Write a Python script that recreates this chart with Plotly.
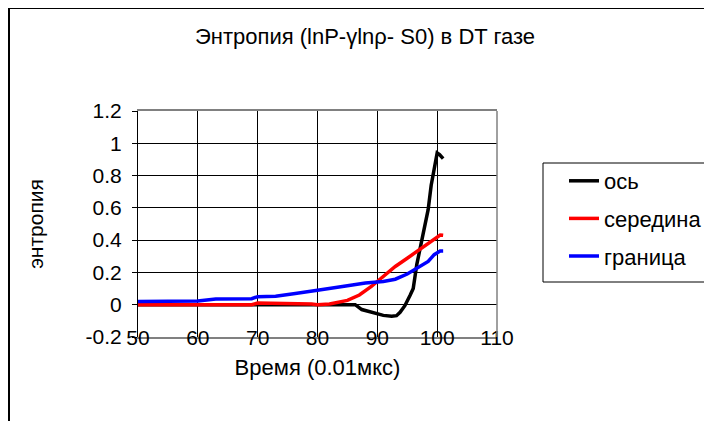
import plotly.graph_objects as go

# ---- data ----
x_os = [50, 55, 60, 65, 70, 75, 80, 85, 86.3, 87.4, 89.3, 91, 92.4, 93.2, 93.8, 94.6, 95.5, 96, 96.6, 97.2, 97.7, 98.5, 99, 99.5, 100, 100.4, 101]
y_os = [0, 0, 0, 0, 0, 0, 0, 0, 0, -0.03, -0.047, -0.066, -0.072, -0.068, -0.047, -0.006, 0.06, 0.1, 0.25, 0.36, 0.44, 0.59, 0.74, 0.83, 0.94, 0.93, 0.905]

x_mid = [50, 60, 69, 70, 74, 78, 79, 80, 82, 85, 87, 89, 91, 93, 95, 97, 99, 100.5, 101]
y_mid = [0, 0, 0, 0.01, 0.01, 0.01, 0.005, 0, 0.005, 0.027, 0.06, 0.113, 0.175, 0.237, 0.288, 0.34, 0.39, 0.432, 0.43]

x_bnd = [50, 60, 63, 69, 70, 73, 76, 79, 80, 85, 88, 91, 93, 95, 97, 98.5, 99.5, 100.5, 101]
y_bnd = [0.02, 0.023, 0.035, 0.037, 0.05, 0.053, 0.068, 0.082, 0.089, 0.117, 0.134, 0.144, 0.158, 0.19, 0.237, 0.268, 0.31, 0.333, 0.333]

names = ["ось", "середина", "граница"]
colors = ["#000000", "#ff0000", "#0000ff"]

x_ticks = [50, 60, 70, 80, 90, 100, 110]
y_ticks = [-0.2, 0, 0.2, 0.4, 0.6, 0.8, 1, 1.2]
y_ticklabels = ["-0.2", "0", "0.2", "0.4", "0.6", "0.8", "1", "1.2"]

title_text = "Энтропия (lnP-γlnρ- S0) в DT газе"
x_title = "Время (0.01мкс)"
y_title = "энтропия"

# ---- layout geometry (window pixels; page body has an 8px margin) ----
OFF = 8
W, H = 780, 421 - OFF          # wider than the window so the legend never pushes margins
L, R, T, B = 138 - OFF, 497 - OFF, 111 - OFF, 337 - OFF
PW, PH = R - L, B - T


def px(xp):
    return (xp - OFF - L) / PW


def py(yp):
    return (B - (yp - OFF)) / PH


FONT = "Arial, 'Liberation Sans', sans-serif"

fig = go.Figure()
for xs, ys, nm, c in zip([x_os, x_mid, x_bnd], [y_os, y_mid, y_bnd], names, colors):
    fig.add_trace(go.Scatter(x=xs, y=ys, mode="lines", name=nm, legendgroup=nm,
                             line=dict(color=c, width=3.5)))

shapes = [
    # outer chart border (top & left visible)
    dict(type="rect", xref="paper", yref="paper", x0=px(9), x1=px(770), y0=py(470), y1=py(8),
         line=dict(color="black", width=2), layer="below"),
    # right border of plot area (gray)
    dict(type="line", xref="paper", yref="paper", x0=1, x1=1, y0=0, y1=1,
         line=dict(color="#808080", width=1.5)),
    # legend box
    dict(type="rect", xref="paper", yref="paper", x0=px(543), x1=px(770), y0=py(282), y1=py(163),
         line=dict(color="black", width=1)),
]

fig.update_layout(
    width=W, height=H,
    margin=dict(l=L, r=W - R, t=T, b=H - B),
    paper_bgcolor="white", plot_bgcolor="white",
    font=dict(family=FONT, size=21, color="black"),
    title=dict(text=title_text, x=(365 - OFF) / W, y=1 - (36 - OFF) / H, xanchor="center", yanchor="middle",
               font=dict(family=FONT, size=22, color="black")),
    showlegend=True,
    legend=dict(x=px(564), y=py(160), xanchor="left", yanchor="top",
                bgcolor="rgba(0,0,0,0)", borderwidth=0, traceorder="grouped",
                tracegroupgap=6, font=dict(family=FONT, size=22, color="black")),
    shapes=shapes,
    xaxis=dict(range=[50, 110], tickvals=x_ticks, ticktext=[str(v) for v in x_ticks],
               showgrid=True, gridcolor="black", gridwidth=1,
               showline=True, linecolor="#808080", linewidth=1.5, mirror=True,
               ticks="", zeroline=False, ticklabelstandoff=-19,
               title=dict(text=x_title, standoff=12, font=dict(family=FONT, size=22)),
               tickfont=dict(family=FONT, size=21)),
    yaxis=dict(range=[-0.2, 1.2], tickvals=y_ticks, ticktext=y_ticklabels,
               showgrid=True, gridcolor="black", gridwidth=1,
               showline=True, linecolor="black", linewidth=1, mirror=False,
               ticks="outside", ticklen=5, tickcolor="black", ticklabelstandoff=6,
               zeroline=True, zerolinecolor="black", zerolinewidth=1,
               title=dict(text=y_title, standoff=36, font=dict(family=FONT, size=21)),
               tickfont=dict(family=FONT, size=21)),
)

fig.write_html("out.html")
